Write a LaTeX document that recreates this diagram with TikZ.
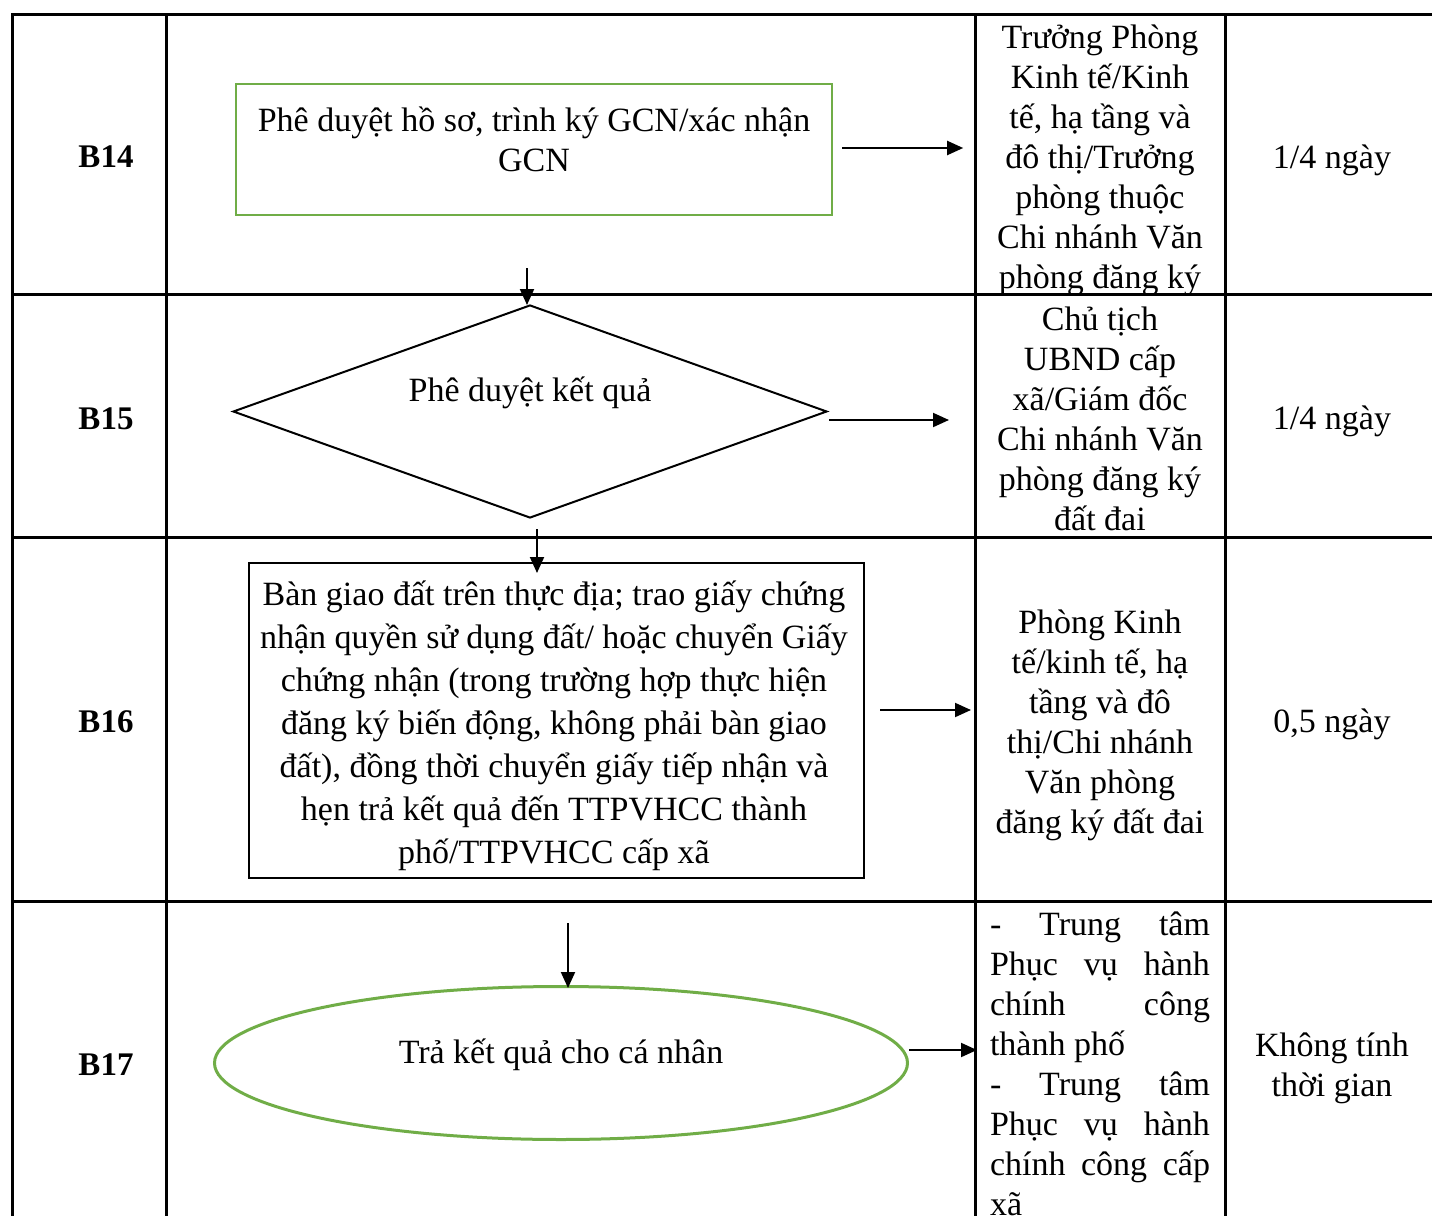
\documentclass[tikz,border=0pt]{standalone}
\usepackage{fontspec}
\setmainfont{Liberation Serif}
\usetikzlibrary{arrows.meta,shapes.geometric}
\definecolor{boxgreen}{RGB}{112,173,71}
\newcommand{\jline}[1]{\makebox[110pt][s]{#1}}
\tikzset{
  grid/.style={line width=1.5pt},
  txt/.style={font=\fontsize{17}{20}\selectfont, align=center, inner sep=0pt},
  stepno/.style={font=\fontsize{16.5}{20}\selectfont\bfseries, inner sep=0pt},
  arr/.style={line width=1pt, -{Triangle[length=8pt,width=7pt]}}
}
\begin{document}
\begin{tikzpicture}[x=0.5pt,y=-0.5pt]
\useasboundingbox (0,0) rectangle (1432,1216);

% table
\draw[grid] (1432,14) -- (12,14) -- (12,1216);
\draw[grid] (166,14) -- (166,1216);
\draw[grid] (975,14) -- (975,1216);
\draw[grid] (1225,14) -- (1225,1216);
\draw[grid] (12,294) -- (1432,294);
\draw[grid] (12,537) -- (1432,537);
\draw[grid] (12,901) -- (1432,901);

% step numbers
\node[stepno] (s14) at (106,157) {B14};
\node[stepno] (s15) at (106,419) {B15};
\node[stepno] (s16) at (106,722) {B16};
\node[stepno] (s17) at (106,1065) {B17};

% flow shapes
\node[draw=boxgreen, line width=1.2pt, minimum width=298pt, minimum height=65.5pt] (b14) at (534,149.5) {};
\node[txt] (b14t) at (534,139) {Phê duyệt hồ sơ, trình ký GCN/xác nhận\\GCN};

\node[diamond, draw, line width=1pt, minimum width=297pt, minimum height=106.5pt, inner sep=0pt] (d15) at (530,411.5) {};
\node[txt] (d15t) at (530,393) {Phê duyệt kết quả};

\node[draw, line width=1pt, minimum width=307.5pt, minimum height=157.5pt] (b16) at (556.5,720.5) {};
\node[txt, font=\fontsize{17}{21.5}\selectfont] (b16t) at (554,726) {Bàn giao đất trên thực địa; trao giấy chứng\\nhận quyền sử dụng đất/ hoặc chuyển Giấy\\chứng nhận (trong trường hợp thực hiện\\đăng ký biến động, không phải bàn giao\\đất), đồng thời chuyển giấy tiếp nhận và\\hẹn trả kết quả đến TTPVHCC thành\\phố/TTPVHCC cấp xã};

\node[ellipse, draw=boxgreen, line width=1.5pt, minimum width=346.5pt, minimum height=76.5pt, inner sep=0pt] (e17) at (561,1063) {};
\node[txt] (e17t) at (561,1055) {Trả kết quả cho cá nhân};

% arrows
\draw[arr] (b14.east) ++(9,-1.5) -- ++(121,0);
\draw[arr] (d15.north) ++(-3,-36) -- ++(0,37);
\draw[arr] (d15.east) ++(1,8.5) -- ++(120,0);
\draw[arr] (d15.south) ++(7,10) -- ++(0,44);
\draw[arr] (b16.east) ++(15,-10.5) -- ++(91,0);
\draw[arr] (b16.south) ++(11.5,44) -- ++(0,65);
\draw[arr] (e17.east) ++(0,-13) -- ++(68,0);

% responsible units
\node[txt] (r14) at (1100,160) {Trưởng Phòng\\Kinh tế/Kinh\\tế, hạ tầng và\\đô thị/Trưởng\\phòng thuộc\\Chi nhánh Văn\\phòng đăng ký};
\node[txt] (r15) at (1100,418.5) {Chủ tịch\\UBND cấp\\xã/Giám đốc\\Chi nhánh Văn\\phòng đăng ký\\đất đai};
\node[txt] (r16) at (1100,725) {Phòng Kinh\\tế/kinh tế, hạ\\tầng và đô\\thị/Chi nhánh\\Văn phòng\\đăng ký đất đai};
\node[txt, align=left] (r17) at (1100,1064) {\jline{- Trung tâm}\\\jline{Phục vụ hành}\\\jline{chính công}\\thành phố\\\jline{- Trung tâm}\\\jline{Phục vụ hành}\\\jline{chính công cấp}\\xã};

% time
\node[txt] (t14) at (1332,160) {1/4 ngày};
\node[txt] (t15) at (1332,421) {1/4 ngày};
\node[txt] (t16) at (1332,724) {0,5 ngày};
\node[txt] (t17) at (1332,1068) {Không tính\\thời gian};
\end{tikzpicture}
\end{document}
